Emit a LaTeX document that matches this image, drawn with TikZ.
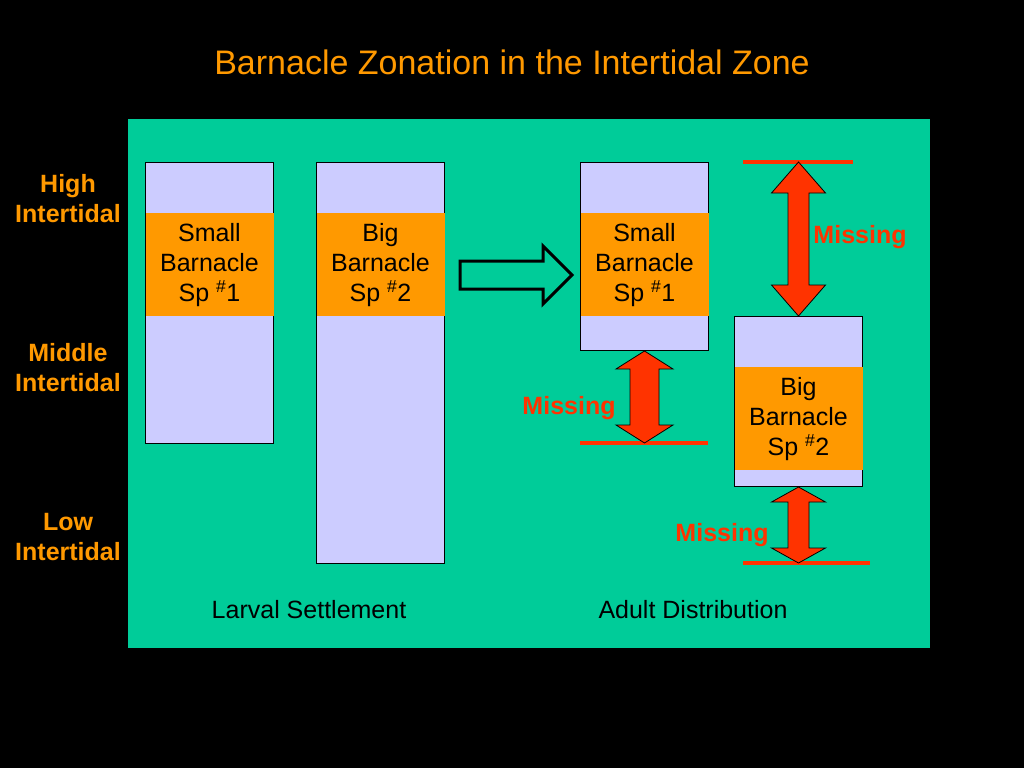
\documentclass[tikz,border=0pt]{standalone}
\usepackage{fontspec}
\setmainfont{Liberation Sans}
\usetikzlibrary{calc}
\definecolor{sea}{HTML}{00CC99}
\definecolor{lavender}{HTML}{CCCCFF}
\definecolor{spfill}{HTML}{FF9900}
\definecolor{missred}{HTML}{FF3300}
\tikzset{>=latex}
\tikzset{
  zone/.style={draw=black, fill=lavender, line width=1pt, inner sep=0pt, minimum width=128pt, anchor=north west},
  sp/.style={fill=spfill, inner sep=0pt, minimum width=128pt, minimum height=103pt, align=center, anchor=north, font=\fontsize{25}{30}\selectfont},
  zonelbl/.style={text=spfill, align=center, yshift=-1pt, font=\bfseries\fontsize{25}{30}\selectfont},
  misslbl/.style={text=missred, yshift=-2pt, font=\bfseries\fontsize{25}{30}\selectfont},
  caption/.style={text=black, yshift=-1pt, font=\fontsize{25}{30}\selectfont},
  gapline/.style={draw=missred, line width=3.5pt},
  gaparrow/.style={fill=missred, draw=black, line width=0.8pt, line join=miter}
}
% double block arrow: top, bottom, shaft half width, head half width, head length
\newcommand{\gaparrow}[5]{%
  \draw[gaparrow] (#1) -- ($(#1)+(#4,#5)$) -- ($(#1)+(#3,#5)$) -- ($(#2)+(#3,-#5)$)
    -- ($(#2)+(#4,-#5)$) -- (#2) -- ($(#2)+(-#4,-#5)$) -- ($(#2)+(-#3,-#5)$)
    -- ($(#1)+(-#3,#5)$) -- ($(#1)+(-#4,#5)$) -- cycle;}
\begin{document}
\begin{tikzpicture}[x=1pt, y=-1pt]
    \fill[black](0, 0)rectangle(1024, 768);
    \useasboundingbox(0, 0)rectangle(1024, 768);
    \node[text=spfill, font=\fontsize{34}{40}\selectfont](title)at(512, 62){Barnacle Zonation in the Intertidal Zone};
    \fill[sea](128, 119)rectangle(930, 648);

    \node[zonelbl](high)at(68, 198){High\\Intertidal};
    \node[zonelbl](middle)at(68, 367){Middle\\Intertidal};
    \node[zonelbl](low)at(68, 536){Low\\Intertidal};

    % larval settlement
    \node[zone, minimum height=281pt](set1)at(145, 162){};
    \node[sp](set1sp)at($(set1.north)+(0, 51)$){Small\\Barnacle\\Sp \textsuperscript{\#}1};
    \node[zone, minimum height=401pt](set2)at(316, 162){};
    \node[sp](set2sp)at($(set2.north)+(0, 51)$){Big\\Barnacle\\Sp \textsuperscript{\#}2};

    \coordinate(push)at(460, 275);
    \draw[line width=3pt, line join=miter](push)++(0, -14)--++(83, 0)--++(0, -15)--(572, 275)
        --(543, 304)--++(0, -15)--++(-83, 0)--cycle;

    % adult distribution
    \node[zone, minimum height=188pt](adult1)at(580, 162){};
    \node[sp](adult1sp)at($(adult1.north)+(0, 51)$){Small\\Barnacle\\Sp \textsuperscript{\#}1};
    \node[zone, minimum height=170pt](adult2)at(734, 316){};
    \node[sp](adult2sp)at($(adult2.north)+(0, 51)$){Big\\Barnacle\\Sp \textsuperscript{\#}2};

    \coordinate(hiL)at(743, 162);
    \coordinate(hiR)at(853, 162);
    \coordinate(midL)at(580, 443);
    \coordinate(midR)at(708, 443);
    \coordinate(lowL)at(743, 563);
    \coordinate(lowR)at(870, 563);
    \draw[gapline](hiL)--(hiR);
    \draw[gapline](midL)--(midR);
    \draw[gapline](lowL)--(lowR);
    \coordinate(hiM)at(adult2.north |- hiL);
    \coordinate(midM)at(adult1.south |- midL);
    \coordinate(lowM)at(adult2.south |- lowL);
    \gaparrow{hiM}{adult2.north}{10.5}{27}{31}
    \gaparrow{adult1.south}{midM}{14.5}{28.5}{18}
    \gaparrow{adult2.south}{lowM}{10.5}{27}{15}

    \node[misslbl](miss1)at(860, 235){Missing};
    \node[misslbl](miss2)at(569, 406){Missing};
    \node[misslbl](miss3)at(722, 533){Missing};

    \node[caption](larval)at(309, 609){Larval Settlement};
    \node[caption](adult)at(693, 609){Adult Distribution};
\end{tikzpicture}
\end{document}
